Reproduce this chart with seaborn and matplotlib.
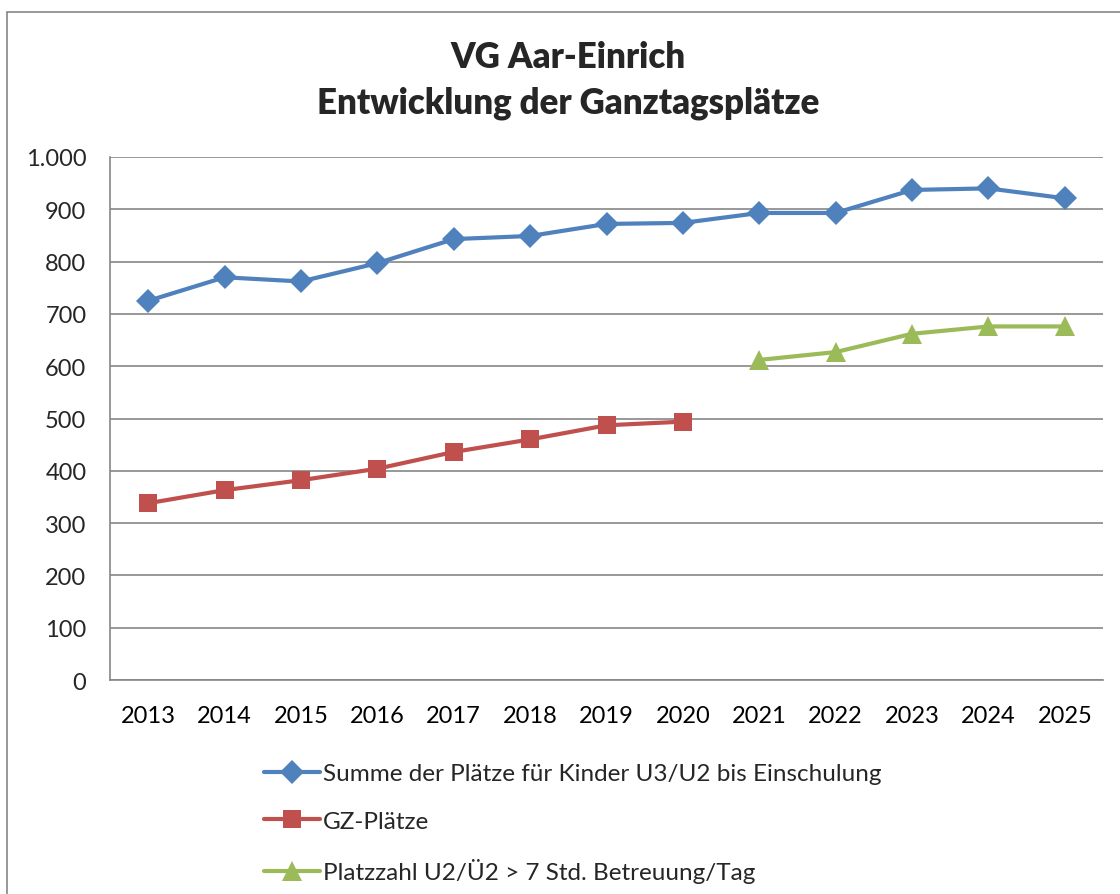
import matplotlib
matplotlib.use("Agg")
import matplotlib.pyplot as plt
import matplotlib.ticker as mticker
from matplotlib.patches import Rectangle
import seaborn as sns
import pandas as pd

years = [2013, 2014, 2015, 2016, 2017, 2018, 2019, 2020, 2021, 2022, 2023, 2024, 2025]
summe = [725, 770, 762, 797, 843, 849, 872, 874, 893, 893, 937, 940, 921]
gz_years = [2013, 2014, 2015, 2016, 2017, 2018, 2019, 2020]
gz = [338, 363, 382, 404, 436, 460, 487, 494]
u2_years = [2021, 2022, 2023, 2024, 2025]
u2 = [612, 627, 662, 676, 676]

labels = ["Summe der Plätze für Kinder U3/U2 bis Einschulung",
          "GZ-Plätze",
          "Platzzahl U2/Ü2 > 7 Std. Betreuung/Tag"]
colors = ["#4F81BD", "#C0504D", "#9BBB59"]
markers = ["D", "s", "^"]
msizes = [12, 13, 14]

sns.set_theme(style="white")
plt.rcParams['font.family'] = ['Lato', 'DejaVu Sans']

fig = plt.figure(figsize=(11.2, 8.95), dpi=100)
ax = fig.add_axes([110/1120, 1-681/895, (1103-110)/1120, (681-158)/895])

series = [(years, summe), (gz_years, gz), (u2_years, u2)]
for (xs, ys), lab, c, m, ms in zip(series, labels, colors, markers, msizes):
    df = pd.DataFrame({"Jahr": xs, "Wert": ys})
    sns.lineplot(data=df, x="Jahr", y="Wert", ax=ax, color=c, marker=m,
                 markersize=ms, markeredgewidth=0, linewidth=3.0, label=lab)

ax.set_xlim(2012.5, 2025.5)
ax.set_ylim(0, 1000)
ax.set_xticks(years)
ax.set_xticks([y + 0.5 for y in [2012] + years], minor=True)
ax.set_yticks(range(0, 1001, 100))
ax.yaxis.set_major_formatter(mticker.FuncFormatter(lambda v, p: f"{int(v):,}".replace(",", ".")))
ax.tick_params(axis="x", which="major", length=0, labelsize=17, pad=18, colors="black")
ax.tick_params(axis="x", which="minor", length=7, width=1.2, color="#868686", direction="out")
ax.tick_params(axis="y", which="major", length=7, width=1.2, color="#868686", labelsize=17, pad=10, direction="out")
ax.set_xlabel("")
ax.set_ylabel("")
ax.grid(axis="y", color="#868686", linewidth=1.2)
ax.grid(axis="x", visible=False)
for s in ["top", "right"]:
    ax.spines[s].set_visible(False)
for s in ["left", "bottom"]:
    ax.spines[s].set_color("#868686")
    ax.spines[s].set_linewidth(1.2)

ax.get_legend().remove()
handles, labs = ax.get_legend_handles_labels()
fig.legend(handles, labs, loc="upper left", bbox_to_anchor=(264/1120, 1-764/895),
           frameon=False, fontsize=17.5, handlelength=2.3, handletextpad=0.12,
           labelspacing=1.1, borderpad=0, borderaxespad=0)

fig.text(568/1120, 1-58/895, "VG Aar-Einrich", ha="center", va="center",
         fontsize=25, fontweight="heavy")
fig.text(568/1120, 1-103/895, "Entwicklung der Ganztagsplätze", ha="center", va="center",
         fontsize=25, fontweight="heavy")

fig.patches.append(Rectangle((7/1120, -0.05), 1.2, 1.05 - 13/895, transform=fig.transFigure,
                             fill=False, edgecolor="#868686", linewidth=1.2))

fig.savefig("out.png", dpi=100)
